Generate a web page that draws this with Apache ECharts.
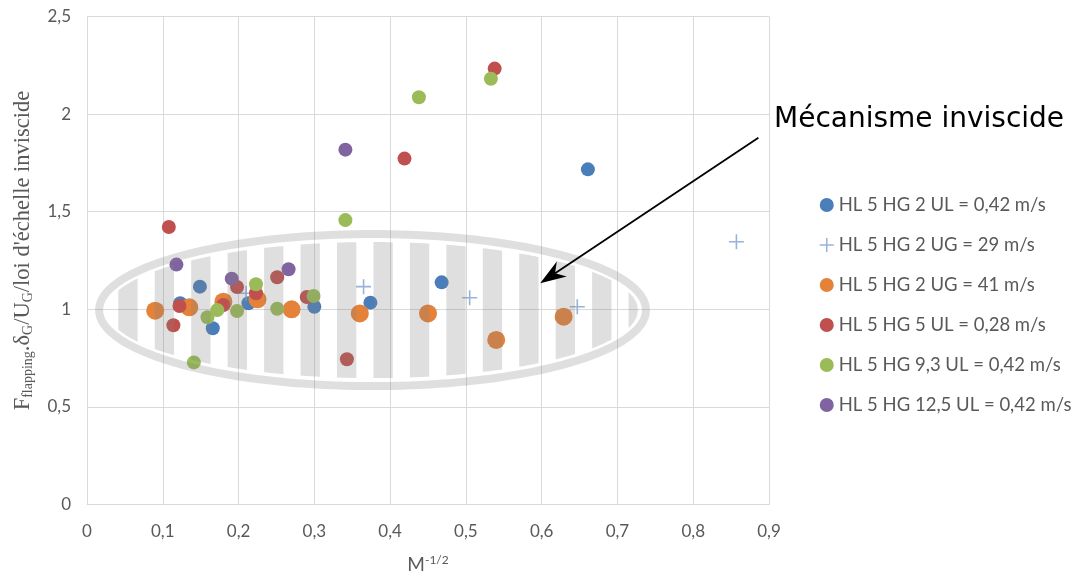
<!DOCTYPE html>
<html><head><meta charset="utf-8">
<script src="https://cdn.jsdelivr.net/npm/echarts@6/dist/echarts.min.js"></script>
<style>html,body{margin:0;padding:0;background:#fff}#c{width:1074px;height:579px}</style>
</head><body><div id="c"></div>
<script>
// ---- data ----
const seriesNames = [
  'HL 5 HG 2 UL = 0,42 m/s',
  'HL 5 HG 2 UG = 29 m/s',
  'HL 5 HG 2 UG = 41 m/s',
  'HL 5 HG 5 UL = 0,28 m/s',
  'HL 5 HG 9,3 UL = 0,42 m/s',
  'HL 5 HG 12,5 UL = 0,42 m/s'
];
const hg2UL042 = [[0.149,1.116],[0.123,1.031],[0.166,0.903],[0.213,1.031],[0.300,1.013],[0.374,1.034],[0.468,1.138],[0.661,1.717]];
const hg2UG29 = [[0.210,1.082],[0.365,1.116],[0.505,1.059],[0.647,1.013],[0.857,1.346]];
const hg2UG41 = [[0.090,0.993],[0.135,1.010],[0.180,1.039],[0.225,1.051],[0.270,1.000],[0.360,0.979],[0.450,0.979],[0.540,0.843],[0.629,0.962]];
const hg5UL028 = [[0.108,1.422],[0.122,1.017],[0.114,0.918],[0.198,1.114],[0.180,1.022],[0.223,1.082],[0.251,1.164],[0.290,1.063],[0.343,0.744],[0.419,1.772],[0.538,2.233]];
const hg93UL042 = [[0.141,0.728],[0.159,0.959],[0.172,0.996],[0.198,0.991],[0.223,1.128],[0.251,1.003],[0.299,1.068],[0.341,1.457],[0.438,2.086],[0.533,2.181]];
const hg125UL042 = [[0.118,1.229],[0.191,1.157],[0.266,1.205],[0.341,1.818]];
const xTickLabels = ['0','0,1','0,2','0,3','0,4','0,5','0,6','0,7','0,8','0,9'];
const yTickLabels = ['0','0,5','1','1,5','2','2,5'];
const annotationText = 'Mécanisme inviscide';

// ---- annotation geometry (data units) ----
const ELL = { cx: 0.3768, cy: 0.996, rx: 0.3661, ry: 0.41, ring: 8, inset: 12,
  stripeStart: 0.0413, stripePeriod: 0.0481, stripeWidth: 0.0255 };
const ARROW = { from: [0.886, 1.879], to: [0.598, 1.133] };
const OVERLAY = 'rgba(128,128,128,0.25)';

const colors = ['#4A7EBB', '#7F9FCF', '#E4823A', '#C0504D', '#9BBB59', '#8064A2'];
const PLUS = 'path://M0,8H16M8,0V16';
const FONT = 'Lato';

function renderOverlay(params, api) {
  const c = api.coord([ELL.cx, ELL.cy]);
  const sz = api.size([ELL.rx, ELL.ry]);
  const rx = sz[0], ry = sz[1];
  const children = [];
  const rr = rx - ELL.ring / 2, rry = ry - ELL.ring / 2;
  const ring = [];
  for (let i = 0; i < 180; i++) {
    const t = i / 180 * 2 * Math.PI;
    ring.push([c[0] + rr * Math.cos(t), c[1] + rry * Math.sin(t)]);
  }
  children.push({ type: 'polygon', shape: { points: ring }, style: { fill: 'none', stroke: OVERLAY, lineWidth: ELL.ring } });
  const rxi = rx - ELL.inset, ryi = ry - ELL.inset;
  const x0 = api.coord([ELL.stripeStart, ELL.cy])[0];
  const per = api.size([ELL.stripePeriod, 0])[0];
  const w = api.size([ELL.stripeWidth, 0])[0];
  for (let xs = x0; xs < c[0] + rxi; xs += per) {
    const a = Math.max(xs, c[0] - rxi), b = Math.min(xs + w, c[0] + rxi);
    if (b <= a) continue;
    const pts = [], n = 12;
    for (let k = 0; k <= n; k++) {
      const x = a + (b - a) * k / n, dx = x - c[0];
      pts.push([x, c[1] - ryi * Math.sqrt(Math.max(0, 1 - dx * dx / (rxi * rxi)))]);
    }
    for (let k = n; k >= 0; k--) {
      const x = a + (b - a) * k / n, dx = x - c[0];
      pts.push([x, c[1] + ryi * Math.sqrt(Math.max(0, 1 - dx * dx / (rxi * rxi)))]);
    }
    children.push({ type: 'polygon', shape: { points: pts }, style: { fill: OVERLAY } });
  }
  // arrow
  const S = api.coord(ARROW.from), T = api.coord(ARROW.to);
  const dx = T[0] - S[0], dy = T[1] - S[1], len = Math.hypot(dx, dy);
  const ux = dx / len, uy = dy / len, nx = -uy, ny = ux;
  const L = 26, W = 9, notch = 8;
  const back = [T[0] - ux * (L - notch), T[1] - uy * (L - notch)];
  children.push({ type: 'line', shape: { x1: S[0], y1: S[1], x2: back[0], y2: back[1] }, style: { stroke: '#000', lineWidth: 1.8 } });
  children.push({ type: 'polygon', shape: { points: [
    T, [T[0] - ux * L + nx * W, T[1] - uy * L + ny * W], back, [T[0] - ux * L - nx * W, T[1] - uy * L - ny * W]
  ] }, style: { fill: '#000' } });
  return { type: 'group', children };
}

const dataSets = [hg2UL042, hg2UG29, hg2UG41, hg5UL028, hg93UL042, hg125UL042];
const sizes = [14, 15, 18, 14, 14, 14];

const series = dataSets.map((d, i) => {
  const s = {
    name: seriesNames[i], type: 'scatter', data: d, symbol: 'circle', symbolSize: sizes[i],
    itemStyle: { color: colors[i], opacity: 1 }, emphasis: { disabled: true }, z: 2 + i * 0.01
  };
  if (i === 1) {
    s.symbol = PLUS;
    s.itemStyle = { color: 'rgba(0,0,0,0)', borderColor: colors[i], borderWidth: 1.6 };
  }
  return s;
});
series.push({
  type: 'custom', name: 'overlay', coordinateSystem: 'cartesian2d', data: [[ELL.cx, ELL.cy]],
  renderItem: renderOverlay, silent: true, z: 10, clip: false
});

const legendData = seriesNames.map((n, i) => i === 1
  ? { name: n, icon: 'path://M0,7H14M7,0V14', itemStyle: { color: 'rgba(0,0,0,0)', borderColor: colors[1], borderWidth: 1.5 } }
  : { name: n, icon: 'circle' });

const chart = echarts.init(document.getElementById('c'), null, { renderer: 'canvas' });
chart.setOption({
  animation: false,
  backgroundColor: '#fff',
  grid: { left: 87, right: 305, top: 16.5, bottom: 74.5 },
  xAxis: {
    type: 'value', min: 0, max: 0.9, interval: 0.1,
    name: '{b|M}{p|-1/2}', nameLocation: 'middle', nameGap: 50,
    nameTextStyle: { rich: {
      b: { fontFamily: FONT, fontSize: 19, color: '#595959' },
      p: { fontFamily: FONT, fontSize: 12, color: '#595959', verticalAlign: 'top', padding: [0, 0, 8, 0] } } },
    axisLine: { show: true, lineStyle: { color: '#D9D9D9', width: 1 } },
    axisTick: { show: false },
    axisLabel: { margin: 19, fontFamily: FONT, fontSize: 17, color: '#595959',
      formatter: v => xTickLabels[Math.round(v * 10)] },
    splitLine: { show: true, lineStyle: { color: '#D9D9D9', width: 1 } }
  },
  yAxis: {
    type: 'value', min: 0, max: 2.5, interval: 0.5,
    name: '{m|F}{s|flapping}{m|.δ}{s|G}{m|/U}{s|G}{m|/loi d\'échelle inviscide}',
    nameLocation: 'middle', nameRotate: 90, nameGap: 52,
    nameTextStyle: { padding: [0, 0, 0, 20], rich: {
      m: { fontFamily: 'Liberation Serif', fontSize: 22.5, color: '#595959', lineHeight: 26, verticalAlign: 'bottom' },
      s: { fontFamily: 'Liberation Serif', fontSize: 14, color: '#595959', lineHeight: 14, verticalAlign: 'bottom' } } },
    axisLine: { show: true, lineStyle: { color: '#D9D9D9', width: 1 } },
    axisTick: { show: false },
    axisLabel: { margin: 16, fontFamily: FONT, fontSize: 17, color: '#595959',
      formatter: v => yTickLabels[Math.round(v * 2)] },
    splitLine: { show: true, lineStyle: { color: '#D9D9D9', width: 1 } }
  },
  legend: {
    orient: 'vertical', left: 814, top: 190, itemWidth: 14, itemHeight: 14, itemGap: 20,
    textStyle: { fontFamily: FONT, fontSize: 18.5, lineHeight: 20, color: '#595959' },
    data: legendData, selectedMode: false
  },
  graphic: [{
    type: 'text', left: 774, top: 106,
    style: { text: annotationText, fontFamily: 'DejaVu Sans', fontSize: 28, fill: '#000' }
  }],
  series
});
</script>
</body></html>
